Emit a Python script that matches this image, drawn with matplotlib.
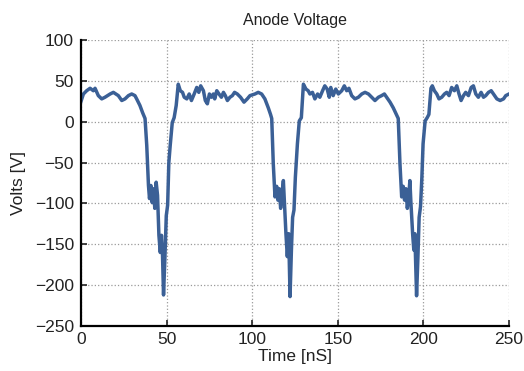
import matplotlib
matplotlib.use("Agg")
import matplotlib.pyplot as plt

# anode voltage trace (time in nS, volts)
time_ns = [
    0, 1.4, 3.3, 5.3, 7.2, 8.2, 10.1, 12.1, 14, 17, 18.9, 21.8, 23.8, 25.7, 27.7,
    29.6, 31.5, 32.5, 34.4, 36, 37.4, 38.4, 39.4, 40, 40.8, 41.6, 42.3, 43.1, 43.9,
    44.7, 45.5, 46.3, 47, 47.6, 48.2, 49, 49.8, 50.6, 51.3, 52.1, 53.3, 54.4, 55.6,
    56.8, 58, 59.3, 60.3, 61.8, 63.2, 64.5, 66.1, 67.6, 68.8, 69.9, 71.5, 72.6,
    73.8, 75, 76.2, 77.3, 78.1, 79.3, 80.6, 82, 83.2, 84.3, 85.5, 87, 88.4, 89.7,
    91.3, 93.2, 95.2, 97.1, 98.7, 101.6, 103.5, 105.5, 107.4, 109.4, 110.7, 111.4,
    112.3, 113.3, 114.3, 115, 115.8, 116.6, 117.4, 118.2, 118.8, 119.7, 120.5,
    121.3, 122.1, 122.9, 123.6, 124.4, 125.2, 126.4, 127.5, 128.7, 129.9, 131.4,
    132.7, 133.7, 135.2, 136.6, 138.2, 139.5, 141.1, 142.4, 143.8, 145, 145.9,
    147.3, 148.8, 150.3, 152.3, 153.8, 155.2, 156.5, 158.1, 160, 162, 164, 165.9,
    167.9, 169.8, 171.7, 173.7, 175.6, 177.2, 178.5, 180.5, 182.4, 184, 185.3,
    186.3, 187.3, 188.2, 189, 189.8, 190.6, 191.4, 192.1, 192.7, 193.7, 194.4,
    195, 196, 196.8, 197.5, 198.3, 199.1, 199.8, 201, 202.2, 203.2, 204.4, 205.2,
    206.4, 207.8, 209.1, 210.7, 212.3, 213.6, 215, 216.5, 218.1, 219.5, 220.8,
    222, 223.4, 224.7, 226.3, 227.9, 229.2, 230.6, 232.1, 233.7, 235.1, 236.4,
    238, 239.6, 240.9, 242.9, 244.8, 246.8, 248.1, 250,
]
volts = [
    25, 34, 38, 41, 38, 41, 32, 28, 30, 34, 36, 32, 26, 28, 32,
    34, 32, 28, 20, 11, 4, -29, -78, -94, -78, -99, -82, -106, -74,
    -90, -139, -160, -139, -163, -212, -167, -115, -102, -50, -29, -1, 5, 20,
    46, 38, 36, 30, 28, 34, 26, 34, 42, 36, 44, 38, 26,
    22, 34, 30, 34, 28, 38, 34, 30, 36, 32, 26, 30, 32, 36,
    34, 30, 24, 28, 32, 34, 36, 34, 28, 17, 9, 4,
    -51, -92, -79, -96, -82, -106, -88, -72, -99, -137, -165,
    -137, -214, -157, -117, -108, -68, -27, 1, 5, 46, 40,
    38, 34, 36, 28, 34, 30, 38, 44, 40, 30, 42,
    32, 40, 34, 38, 44, 38, 41, 32, 28, 30, 34, 36,
    34, 30, 26, 30, 32, 34, 30, 24, 17, 10, 4,
    -51, -92, -79, -96, -82, -106, -92, -72, -99, -137, -157,
    -137, -213, -165, -117, -104, -68, -27, 1, 5, 9, 41, 44,
    38, 34, 28, 30, 34, 36, 32, 42, 38, 44, 34,
    26, 32, 36, 32, 42, 44, 34, 30, 36, 30, 32,
    36, 38, 34, 28, 26, 28, 32, 34,
]

x_ticks = [0, 50, 100, 150, 200, 250]
y_ticks = [-250, -200, -150, -100, -50, 0, 50, 100]

plt.rcParams["font.family"] = ["Liberation Sans", "DejaVu Sans"]

fig = plt.figure(figsize=(5.24, 3.71), dpi=100)
ax = fig.add_axes([0.1546, 0.1213, 0.8168, 0.7707])
ax.plot(time_ns, volts, color="#3b6096", lw=2.5, solid_joinstyle="round")

ax.set_xlim(0, 250)
ax.set_ylim(-250, 100)
ax.set_xticks(x_ticks)
ax.set_yticks(y_ticks)
ax.grid(True, linestyle=":", color="#9a9a9a", lw=0.9)
ax.set_axisbelow(True)

for side in ("top", "right"):
    ax.spines[side].set_visible(False)
for side in ("left", "bottom"):
    ax.spines[side].set_linewidth(1.6)
ax.tick_params(direction="in", length=4, width=1.2, labelsize=12.5, colors="#222222")
ax.tick_params(axis="x", pad=4)
ax.tick_params(axis="y", pad=5)

ax.set_xlabel("Time [nS]", fontsize=12.5, labelpad=2, color="#222222")
ax.set_ylabel("Volts [V]", fontsize=12.5, labelpad=6, color="#222222")
ax.set_title("Anode Voltage", fontsize=11.5, pad=11, color="#222222")

fig.savefig("out.png", dpi=100)
